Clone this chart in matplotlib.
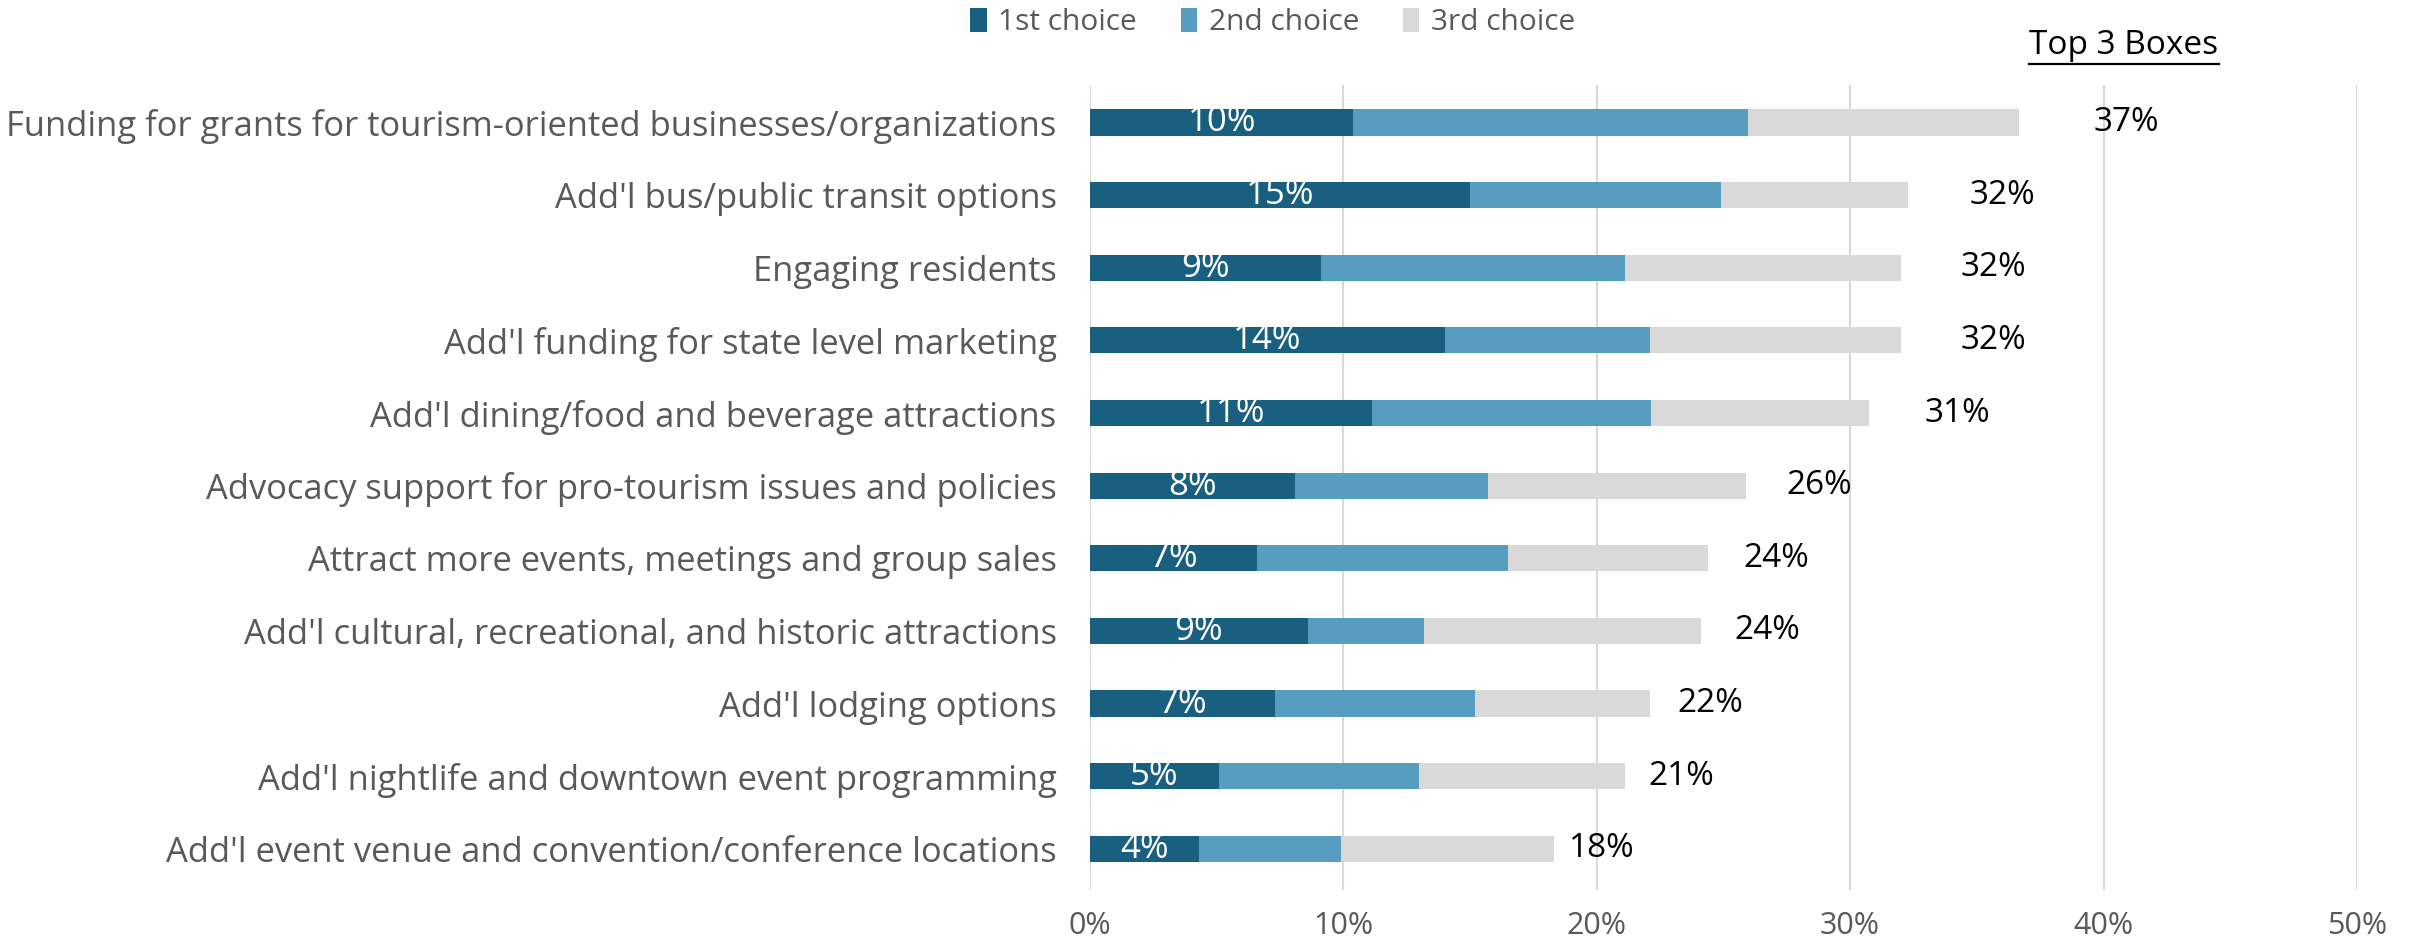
import matplotlib
matplotlib.use("Agg")
import matplotlib.pyplot as plt
from matplotlib.lines import Line2D
import numpy as np

categories = [
    "Funding for grants for tourism-oriented businesses/organizations",
    "Add'l bus/public transit options",
    "Engaging residents",
    "Add'l funding for state level marketing",
    "Add'l dining/food and beverage attractions",
    "Advocacy support for pro-tourism issues and policies",
    "Attract more events, meetings and group sales",
    "Add'l cultural, recreational, and historic attractions",
    "Add'l lodging options",
    "Add'l nightlife and downtown event programming",
    "Add'l event venue and convention/conference locations",
]
first = [10.4, 15.0, 9.1, 14.0, 11.15, 8.1, 6.6, 8.6, 7.3, 5.1, 4.3]
second = [15.55, 9.9, 12.0, 8.1, 11.0, 7.6, 9.9, 4.6, 7.9, 7.9, 5.6]
third = [10.7, 7.4, 10.9, 9.9, 8.6, 10.2, 7.9, 10.9, 6.9, 8.1, 8.4]
series_names = ["1st choice", "2nd choice", "3rd choice"]
xticks = [0, 10, 20, 30, 40, 50]

colors = ["#185F80", "#569DC0", "#D9D9D9"]
font = "Open Sans"
plt.rcParams['font.family'] = [font, 'DejaVu Sans']

fig = plt.figure(figsize=(24.15, 9.39), dpi=100)
ax = fig.add_axes([0.4513, 0.052, 0.976 - 0.4513, 0.909 - 0.052])

y = np.arange(len(categories))
f = np.array(first); s = np.array(second); t = np.array(third)
h = 0.36
b1 = ax.barh(y, f, height=h, color=colors[0], label=series_names[0], zorder=3)
b2 = ax.barh(y, s, left=f, height=h, color=colors[1], label=series_names[1], zorder=3)
b3 = ax.barh(y, t, left=f + s, height=h, color=colors[2], label=series_names[2], zorder=3)

total = f + s + t
for yi, fv, tv in zip(y, f, total):
    ax.text(fv / 2, yi, f"{fv:.0f}%", ha="center", va="center", color="white", fontsize=25, zorder=4)
    ax.text(tv * 1.13 - 0.5, yi, f"{tv:.0f}%", ha="center", va="center", color="black", fontsize=24, zorder=4)

ax.set_ylim(len(categories) - 0.43, -0.51)
ax.set_xlim(0, 50)
ax.set_xticks(xticks)
ax.set_xticklabels([f"{v}%" for v in xticks], fontsize=22, color="#595959")
ax.set_yticks(y)
ax.set_yticklabels(categories, fontsize=24.8, color="#595959")
ax.tick_params(axis="both", length=0)
ax.tick_params(axis="y", pad=24)
ax.tick_params(axis="x", pad=15)
ax.grid(axis="x", color="#D9D9D9", linewidth=1.5, zorder=0)
for sp in ax.spines.values():
    sp.set_visible(False)

leg = fig.legend(handles=[b1, b2, b3], labels=series_names, loc="center", bbox_to_anchor=(0.527, 0.976),
                 ncol=3, frameon=False, fontsize=21.5, handlelength=0.55, handleheight=0.85,
                 handletextpad=0.4, columnspacing=1.45)
for txt in leg.get_texts():
    txt.set_color("#595959")

base = 0.942
tt = fig.text(0.8795, base, "Top 3 Boxes", ha="center", va="baseline", fontsize=24, color="black")
fig.canvas.draw()
bb = tt.get_window_extent().transformed(fig.transFigure.inverted())
fig.add_artist(Line2D([bb.x0, bb.x1], [base - 0.01, base - 0.01], color="black", linewidth=1.6,
                      transform=fig.transFigure))

fig.savefig("out.png", dpi=100)
